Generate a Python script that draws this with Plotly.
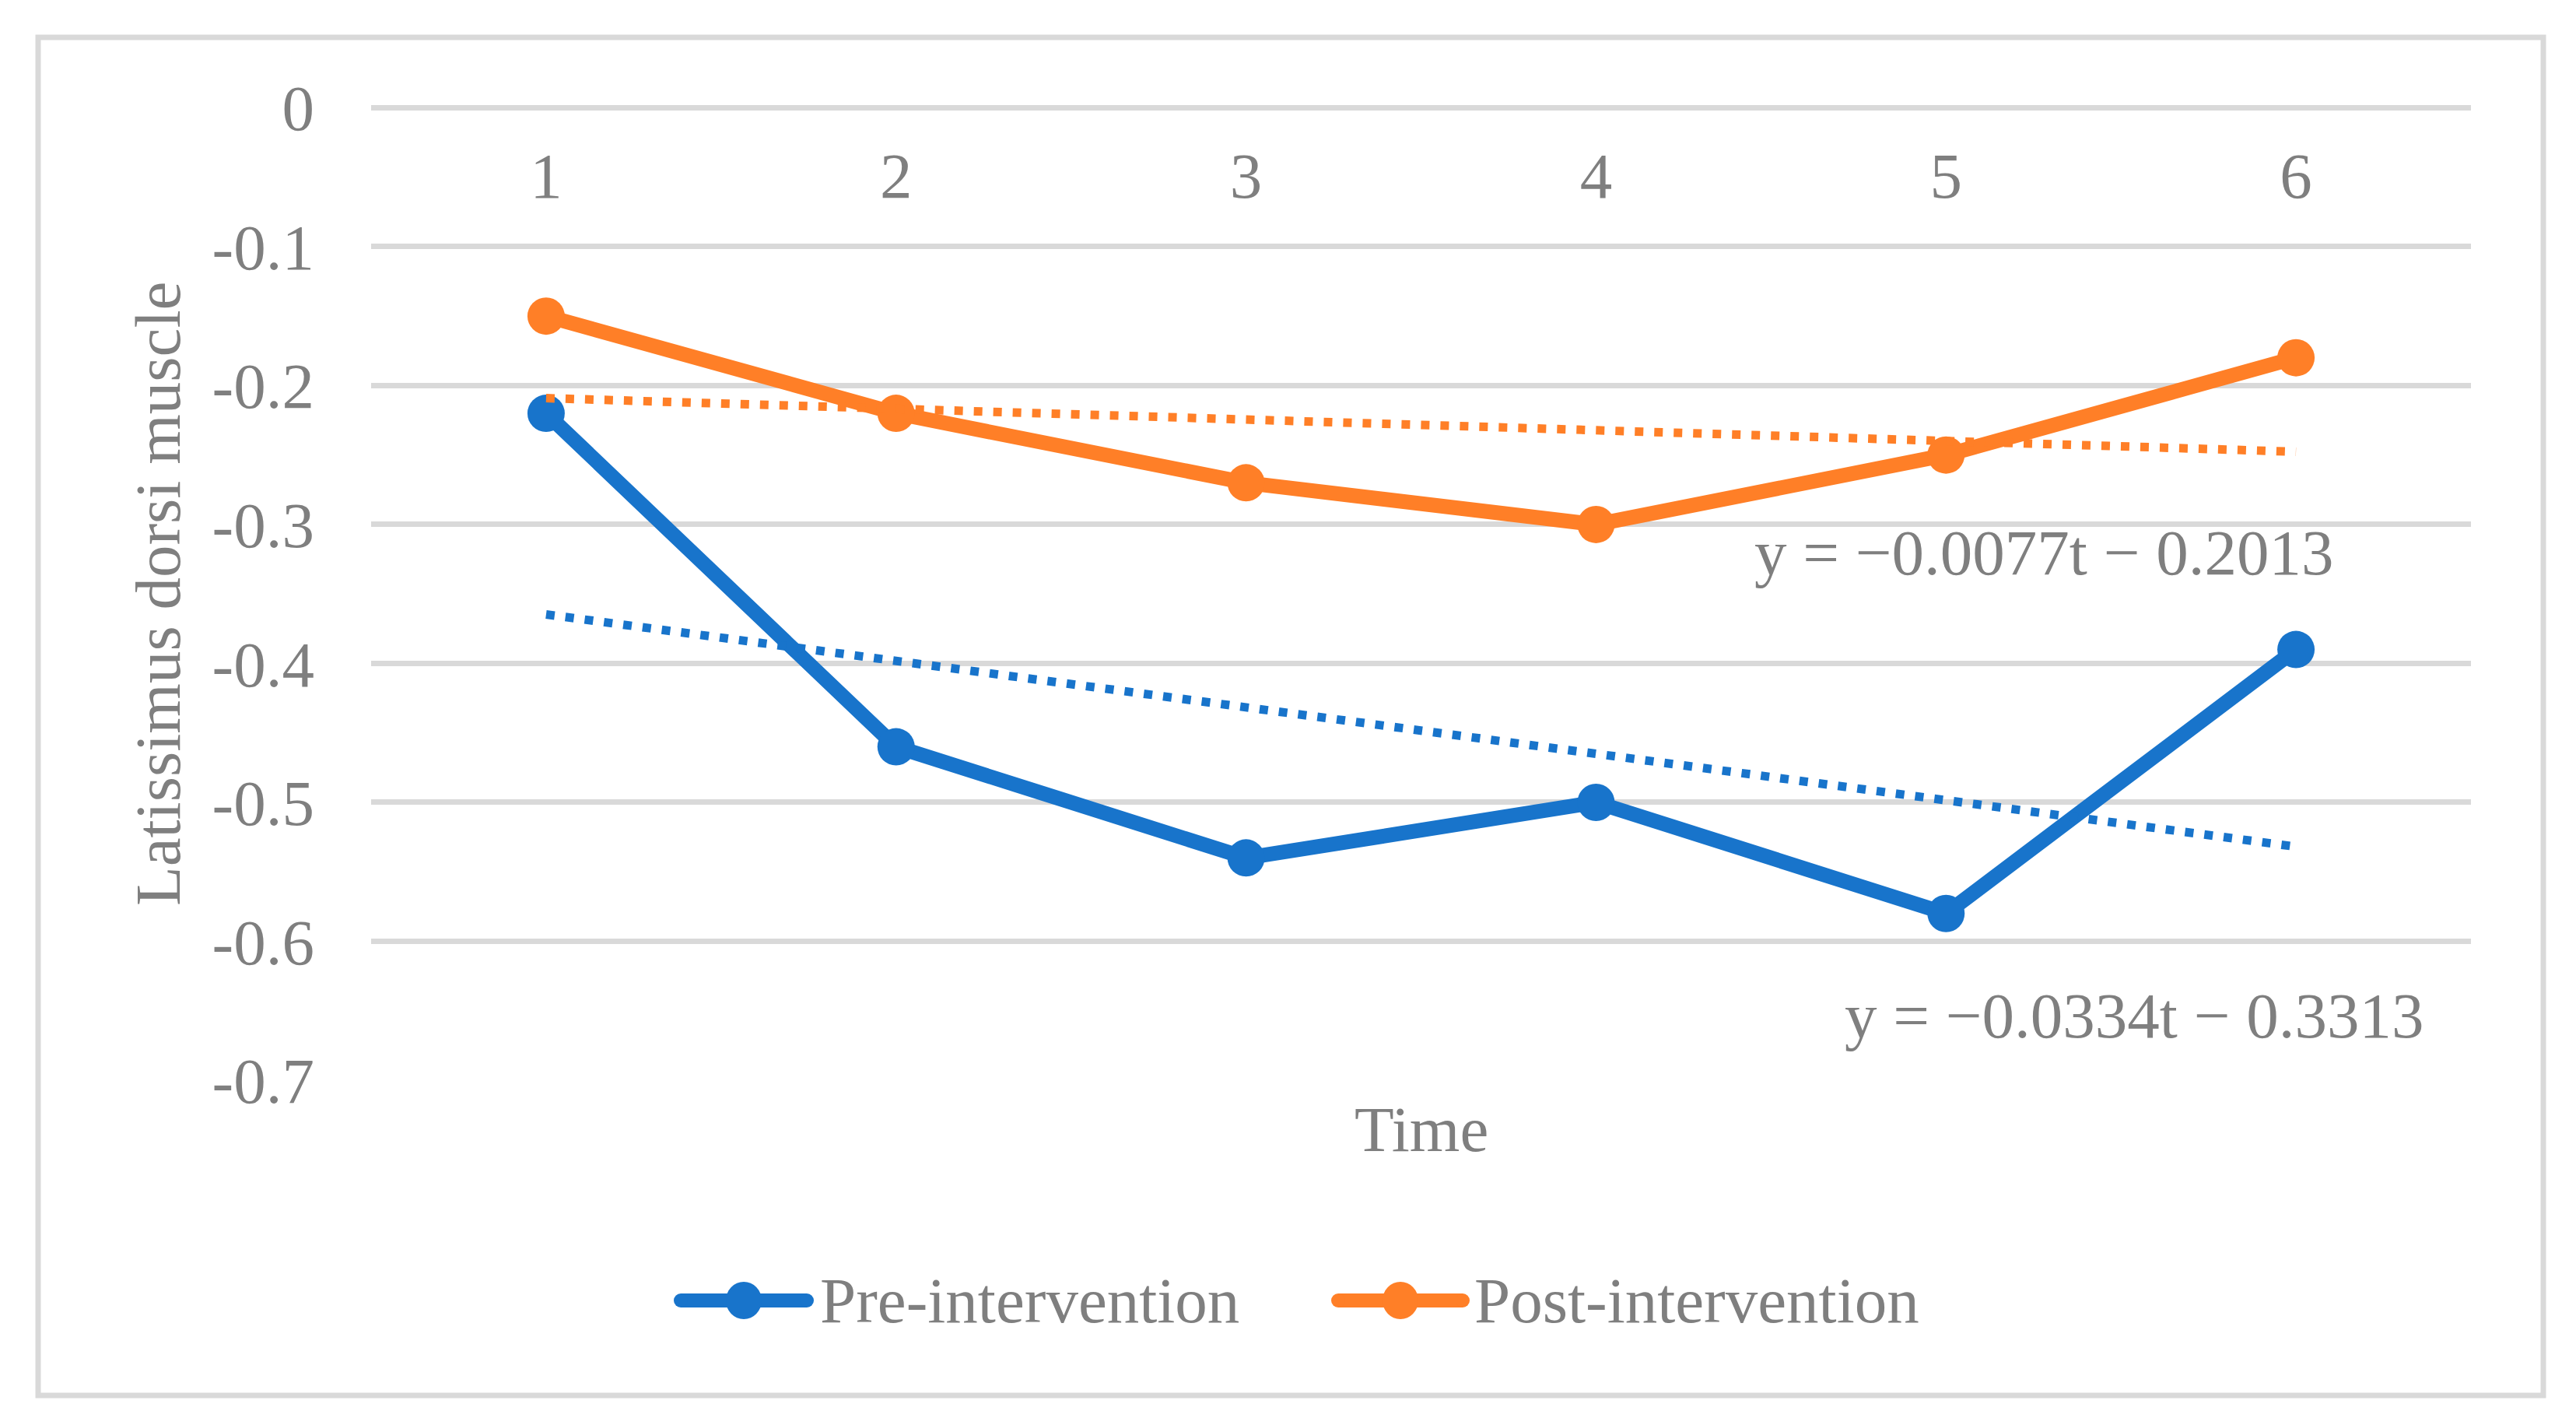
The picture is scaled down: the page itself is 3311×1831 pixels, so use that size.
import numpy as np
import plotly.graph_objects as go

# ---- data ----
time_points = [1, 2, 3, 4, 5, 6]
pre_intervention = [-0.22, -0.46, -0.54, -0.50, -0.58, -0.39]
post_intervention = [-0.15, -0.22, -0.27, -0.30, -0.25, -0.18]
y_tick_vals = [0, -0.1, -0.2, -0.3, -0.4, -0.5, -0.6, -0.7]
y_tick_text = ["0", "-0.1", "-0.2", "-0.3", "-0.4", "-0.5", "-0.6", "-0.7"]
series_names = ["Pre-intervention", "Post-intervention"]

BLUE = "#1874CB"
ORANGE = "#FF7F27"
GRAY = "#7F7F7F"
GRID = "#D9D9D9"
FONT = "Liberation Serif, Times New Roman, serif"
FS = 83

W, H = 3311, 1831
L, R, T, B = 469, 143, 130, 451
PW, PH = W - L - R, H - T - B


def px(xp):
    return (xp - L) / PW


def py(yp):
    return (H - B - yp) / PH


t = np.array(time_points, dtype=float)
m_pre, b_pre = np.polyfit(t, pre_intervention, 1)
m_post, b_post = np.polyfit(t, post_intervention, 1)


def eq(m, b):
    sm = "−" if m < 0 else ""
    sb = "−" if b < 0 else "+"
    return f"y = {sm}{abs(m):.4f}t {sb} {abs(b):.4f}"


fig = go.Figure()
fig.add_trace(go.Scatter(x=time_points, y=pre_intervention, mode="lines+markers",
                         name=series_names[0], line=dict(color=BLUE, width=19),
                         marker=dict(color=BLUE, size=48)))
fig.add_trace(go.Scatter(x=time_points, y=post_intervention, mode="lines+markers",
                         name=series_names[1], line=dict(color=ORANGE, width=19),
                         marker=dict(color=ORANGE, size=48)))
fig.add_trace(go.Scatter(x=t, y=m_pre * t + b_pre, mode="lines", showlegend=False,
                         name="Linear (Pre-intervention)",
                         line=dict(color=BLUE, width=11, dash="11px,14px")))
fig.add_trace(go.Scatter(x=t, y=m_post * t + b_post, mode="lines", showlegend=False,
                         name="Linear (Post-intervention)",
                         line=dict(color=ORANGE, width=11, dash="11px,14px")))

fig.update_layout(
    width=W, height=H,
    margin=dict(l=L, r=R, t=T, b=B, autoexpand=False),
    paper_bgcolor="white", plot_bgcolor="white",
    showlegend=False,
    font=dict(family=FONT, size=FS, color=GRAY),
    xaxis=dict(range=[0.5, 6.5], tickvals=time_points, ticktext=[str(v) for v in time_points],
               showgrid=False, zeroline=False, showline=False, ticks="",
               anchor="free", position=1, side="bottom", ticklabelstandoff=32,
               tickfont=dict(family=FONT, size=FS, color=GRAY)),
    yaxis=dict(range=[-0.7, 0.0002], tickvals=y_tick_vals, ticktext=y_tick_text,
               showgrid=True, gridcolor=GRID, gridwidth=7, zeroline=True,
               zerolinecolor=GRID, zerolinewidth=7,
               showline=False, ticks="", ticklabelstandoff=72,
               tickfont=dict(family=FONT, size=FS, color=GRAY)),
)

annotations = [
    dict(text="Latissimus dorsi muscle", xref="paper", yref="paper", x=px(195), y=0.5,
         textangle=-90, showarrow=False, xanchor="center", yanchor="middle"),
    dict(text="Time", xref="paper", yref="paper", x=px(1819), y=py(1443),
         showarrow=False, xanchor="center", yanchor="middle"),
    dict(text=eq(m_post, b_post), xref="paper", yref="paper", x=px(2245), y=py(702),
         showarrow=False, xanchor="left", yanchor="middle"),
    dict(text=eq(m_pre, b_pre), xref="paper", yref="paper", x=px(2361), y=py(1297),
         showarrow=False, xanchor="left", yanchor="middle"),
]

# legend drawn to match the long Excel-style legend keys
shapes = []
leg_y = py(1663)
for name, color, x0, x1, xtext in [(series_names[0], BLUE, 858, 1038, 1044),
                                    (series_names[1], ORANGE, 1703, 1881, 1885)]:
    shapes.append(dict(type="line", xref="paper", yref="paper", x0=px(x0 + 9), x1=px(x1 - 9),
                       y0=leg_y, y1=leg_y, line=dict(color=color, width=18)))
    for xe in (x0 + 9, x1 - 9):
        shapes.append(dict(type="circle", xref="paper", yref="paper", xsizemode="pixel",
                           ysizemode="pixel", xanchor=px(xe), yanchor=leg_y,
                           x0=-9, x1=9, y0=-9, y1=9, fillcolor=color, line=dict(width=0)))
    shapes.append(dict(type="circle", xref="paper", yref="paper", xsizemode="pixel",
                       ysizemode="pixel", xanchor=px((x0 + x1) / 2), yanchor=leg_y,
                       x0=-23, x1=23, y0=-24, y1=24, fillcolor=color,
                       line=dict(width=0)))
    annotations.append(dict(text=name, xref="paper", yref="paper", x=px(xtext), y=leg_y,
                            showarrow=False, xanchor="left", yanchor="middle"))

# outer chart border
shapes.append(dict(type="rect", xref="paper", yref="paper", x0=px(41), x1=px(3261),
                   y0=py(1785), y1=py(40), line=dict(color=GRID, width=7),
                   fillcolor="rgba(0,0,0,0)", layer="below"))

fig.update_layout(annotations=annotations, shapes=shapes)
fig.write_html("out.html")
